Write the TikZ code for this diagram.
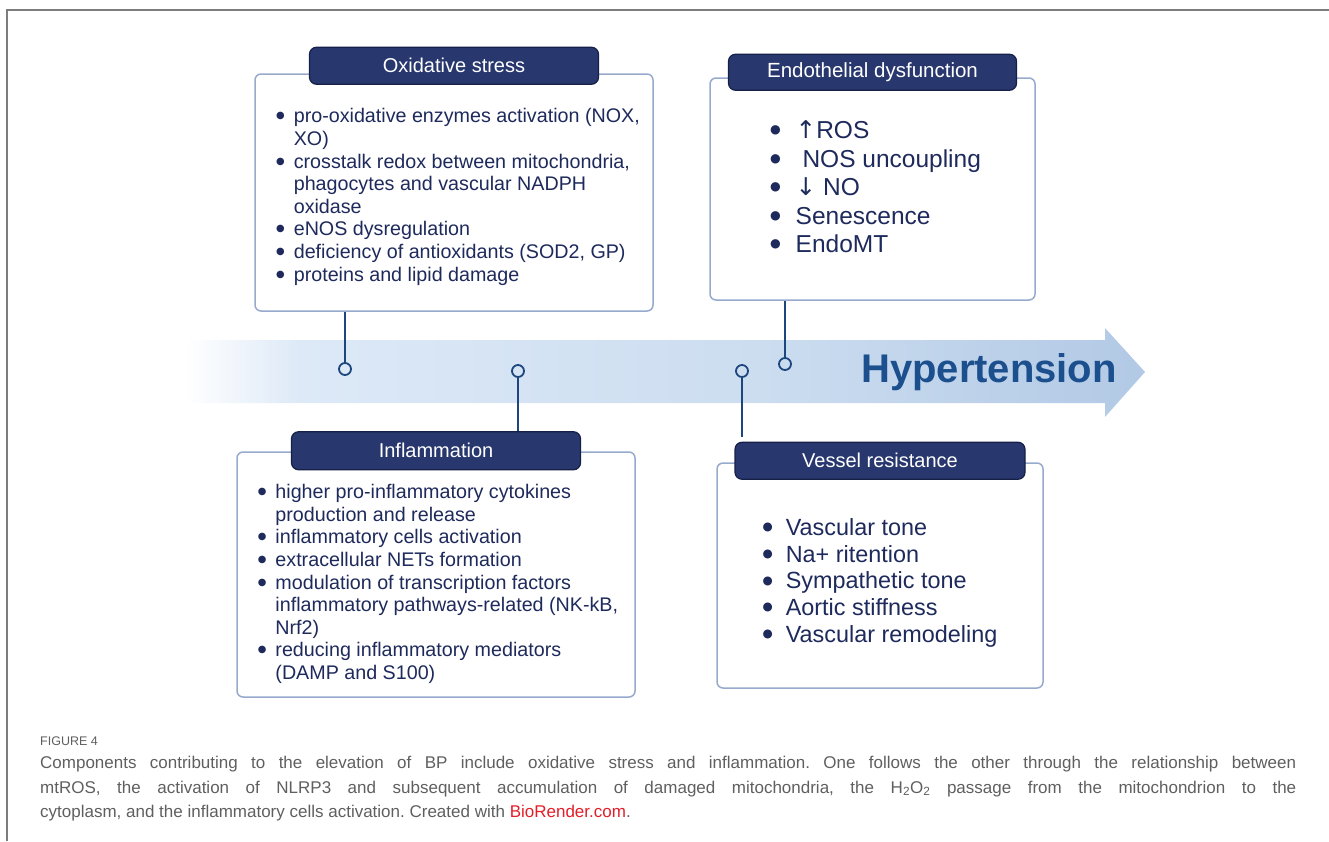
\documentclass[tikz,border=0pt]{standalone}
\usepackage{fontspec}
\setmainfont{Liberation Sans}
\newfontfamily\symfont{DejaVu Sans}
\usepackage{xcolor}
\usepackage{tikz}
\usetikzlibrary{positioning}
\definecolor{panelline}{RGB}{150,170,205}
\definecolor{tabnavy}{RGB}{40,56,110}
\definecolor{tabedge}{RGB}{22,32,70}
\definecolor{listnavy}{RGB}{30,42,92}
\definecolor{stemblue}{RGB}{28,70,125}
\definecolor{hyperblue}{RGB}{28,79,142}
\definecolor{arrowlight}{RGB}{221,233,247}
\definecolor{arrowmid}{RGB}{204,221,240}
\definecolor{arrowdark}{RGB}{178,201,229}
\definecolor{capgray}{RGB}{95,95,95}
\definecolor{framegray}{RGB}{125,125,125}
\definecolor{linkred}{RGB}{226,30,40}
\pgfdeclarehorizontalshading{hyperfade}{100bp}{color(0bp)=(white); color(25bp)=(white); color(31bp)=(arrowlight); color(55bp)=(arrowmid); color(75bp)=(arrowdark); color(100bp)=(arrowdark)}
\newcommand{\blt}{\raisebox{0.2em}{\scalebox{0.5}{\symfont\char"25CF}}}
\frenchspacing

\begin{document}
\begin{tikzpicture}[
  x=1pt, y=-1pt,
  panel/.style={draw=panelline, line width=1.5pt, rounded corners=6pt, fill=white},
  tabbox/.style={draw=tabedge, line width=1.2pt, fill=tabnavy, rounded corners=7pt, text=white, minimum height=37pt, font=\fontsize{20}{22}\selectfont},
  smalllist/.style={text=listnavy, font=\fontsize{19.7}{22.6}\selectfont},
  biglist/.style={text=listnavy, font=\fontsize{24.5}{28.4}\selectfont},
  midlist/.style={text=listnavy, font=\fontsize{23.4}{26.6}\selectfont},
  knob/.style={circle, draw=stemblue, line width=1.8pt, minimum size=12pt, inner sep=0pt},
  stemline/.style={draw=stemblue, line width=1.8pt}
]
\useasboundingbox (0,0) rectangle (1329,841);
% frame of the figure
\draw[framegray, line width=1.3pt] (7,841) -- (7,10) -- (1329,10);

% time arrow
\shade[shading=hyperfade] (185,340) -- (1105,340) -- (1105,328) -- (1145,372) -- (1105,417) -- (1105,403) -- (185,403) -- cycle;
\node[text=hyperblue, font=\fontsize{40}{44}\selectfont\bfseries] (htn) at (989,372) {Hypertension};

% panels above the arrow
\node[panel, minimum width=398pt, minimum height=237pt] (oxid) at (454,192.5) {};
\node[smalllist] (oxidlist) at ([xshift=4pt, yshift=-5pt]oxid.center) {%
\begin{tabular}{@{}l@{\hspace{9pt}}l@{}}
\blt & pro-oxidative enzymes activation (NOX,\\
 & XO)\\
\blt & crosstalk redox between mitochondria,\\
 & phagocytes and vascular NADPH\\
 & oxidase\\
\blt & eNOS dysregulation\\
\blt & deficiency of antioxidants (SOD2, GP)\\
\blt & proteins and lipid damage
\end{tabular}};
\node[tabbox, minimum width=289pt] (oxidtab) at ([yshift=7.5pt]oxid.north) {Oxidative stress};

\node[panel, minimum width=325pt, minimum height=222pt] (endo) at (872.5,189) {};
\node[biglist] (endolist) at ([xshift=3pt, yshift=-1pt]endo.center) {%
\begin{tabular}{@{}l@{\hspace{15pt}}l@{}}
\blt & {\symfont\char"2191}ROS\\
\blt & \ NOS uncoupling\\
\blt & {\symfont\char"2193} NO\\
\blt & Senescence\\
\blt & EndoMT
\end{tabular}};
\node[tabbox, minimum width=288pt, minimum height=36pt, font=\fontsize{20.5}{22}\selectfont] (endotab) at ([yshift=5pt]endo.north) {Endothelial dysfunction};

% panels below the arrow
\node[panel, minimum width=398pt, minimum height=245pt] (infl) at (436,574.5) {};
\node[smalllist] (infllist) at ([xshift=2pt, yshift=-10pt]infl.center) {%
\begin{tabular}{@{}l@{\hspace{9pt}}l@{}}
\blt & higher pro-inflammatory cytokines\\
 & production and release\\
\blt & inflammatory cells activation\\
\blt & extracellular NETs formation\\
\blt & modulation of transcription factors\\
 & inflammatory pathways-related (NK-kB,\\
 & Nrf2)\\
\blt & reducing inflammatory mediators\\
 & (DAMP and S100)
\end{tabular}};
\node[tabbox, minimum width=289pt, minimum height=38pt] (infltab) at ([yshift=0.5pt]infl.north) {Inflammation};

\node[panel, minimum width=326pt, minimum height=225pt] (vess) at (880,575.5) {};
\node[midlist] (vesslist) at ([yshift=-8pt]vess.center) {%
\begin{tabular}{@{}l@{\hspace{13pt}}l@{}}
\blt & Vascular tone\\
\blt & Na+ ritention\\
\blt & Sympathetic tone\\
\blt & Aortic stiffness\\
\blt & Vascular remodeling
\end{tabular}};
\node[tabbox, minimum width=290pt] (vesstab) at ([yshift=1.5pt]vess.north) {Vessel resistance};

% pins on the arrow
\node[knob] (knobox) at (345,369) {};
\node[knob] (knobinfl) at (518,371) {};
\node[knob] (knobvess) at (742,371) {};
\node[knob] (knobendo) at (785,364) {};
\draw[stemline] (knobox) -- (knobox |- oxid.south);
\draw[stemline] (knobinfl) -- (knobinfl |- infltab.north);
\draw[stemline] (knobvess) -- ([yshift=5pt]knobvess |- vesstab.north);
\draw[stemline] (knobendo) -- (knobendo |- endo.south);

% caption
\node[anchor=west, text=capgray, font=\fontsize{12.5}{14}\selectfont, inner sep=0pt] (figno) at (40,741.5) {FIGURE 4};
\node[anchor=north west, align=left, text=capgray, font=\fontsize{17}{24.5}\selectfont, inner sep=0pt] (caption) at (40,756) {%
\makebox[1256pt][s]{Components contributing to the elevation of BP include oxidative stress and inflammation. One follows the other through the relationship between}\\
\makebox[1256pt][s]{mtROS, the activation of NLRP3 and subsequent accumulation of damaged mitochondria, the H\textsubscript{2}O\textsubscript{2} passage from the mitochondrion to the}\\
cytoplasm, and the inflammatory cells activation. Created with \textcolor{linkred}{BioRender.com}.};
\end{tikzpicture}
\end{document}
